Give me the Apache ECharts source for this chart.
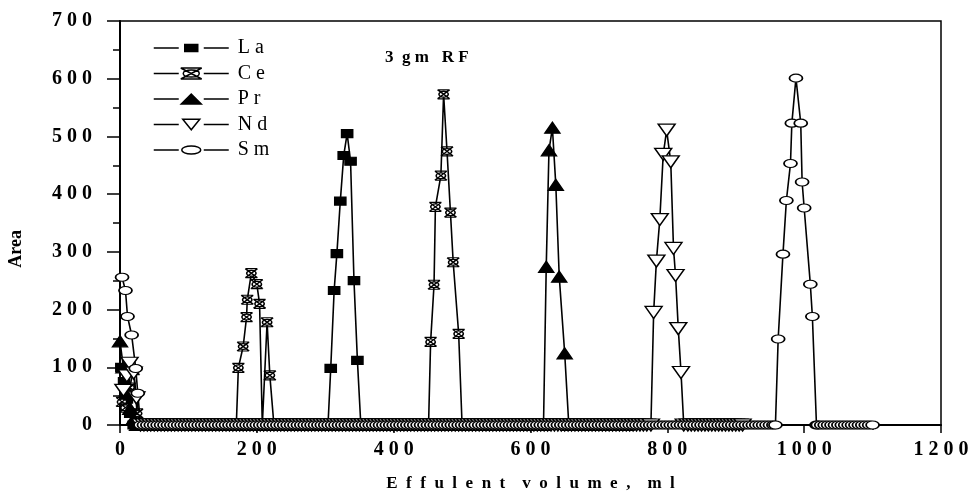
<!DOCTYPE html>
<html>
<head>
<meta charset="utf-8">
<script src="https://cdn.jsdelivr.net/npm/echarts@6/dist/echarts.min.js"></script>
<style>
  html, body { margin: 0; padding: 0; background: #fff; }
  #chart { width: 973px; height: 498px; }
</style>
</head>
<body>
<div id="chart"></div>
<script>
// Elution of rare earths, 3 gm RF resin
const elementNames = ['La', 'Ce', 'Pr', 'Nd', 'Sm'];
const xTickValues = [0, 200, 400, 600, 800, 1000, 1200];
const yTickValues = [0, 100, 200, 300, 400, 500, 600, 700];

// Measured fractions: [effluent volume ml, peak area]; each peak is bracketed by zero fractions
const laPoints = [[2, 100], [6, 75], [10, 45], [15, 20], [20, 0],
  [304, 0], [308, 98], [313, 233], [317, 297], [322, 388], [327, 467], [332, 505],
  [337, 457], [342, 250], [347, 112], [352, 0]];
const cePoints = [[3, 40], [8, 30], [14, 65], [20, 95], [25, 20], [30, 0],
  [170, 0], [173, 99], [180, 136], [185, 187], [186, 217], [192, 263], [200, 244],
  [204, 210], [208, 0], [215, 178], [219, 86], [225, 0],
  [451, 0], [454, 144], [459, 243], [461, 378], [469, 432], [473, 573], [478, 474],
  [483, 368], [487, 282], [495, 158], [500, 0]];
const prPoints = [[0, 145], [5, 100], [10, 60], [15, 28], [20, 10], [25, 0],
  [619, 0], [623, 274], [627, 476], [632, 515], [637, 416], [642, 257], [650, 124], [656, 0]];
const ndPoints = [[5, 60], [10, 85], [14, 107], [20, 90], [24, 47], [30, 0],
  [776, 0], [780, 195], [784, 284], [789, 356], [794, 469], [799, 511], [805, 456],
  [809, 306], [812, 259], [816, 167], [820, 91], [824, 0]];
const smPoints = [[3, 256], [8, 233], [11, 188], [17, 156], [23, 98], [26, 55], [30, 0],
  [958, 0], [962, 149], [969, 296], [974, 389], [980, 453], [982, 523], [988, 601],
  [995, 523], [997, 421], [1000, 376], [1009, 244], [1012, 188], [1018, 0]];

// Zero-area fractions were collected every 5 ml up to the last fraction of each run
const fractionStep = 5;
const lastFraction = { La: 741, Ce: 741, Pr: 741, Nd: 912, Sm: 1101 };

// The leading peak ends at its first zero; later peaks are bracketed by a pair of zeros.
// Zero fractions fill the stretches between peaks.
function buildSeries(points, last) {
  const lead = [];
  let i = 0;
  while (i < points.length && points[i][1] !== 0) { lead.push(points[i]); i++; }
  lead.push(points[i]);
  const rest = points.slice(i + 1);
  const windows = [];
  for (let k = 0; k + 1 < rest.length; ) {
    let j = k + 1;
    while (j < rest.length && rest[j][1] !== 0) j++;
    windows.push([rest[k][0], rest[j][0]]);
    k = j + 1;
  }
  const leadEnd = points[i][0];
  const zeros = [];
  for (let v = fractionStep * Math.floor(leadEnd / fractionStep) + fractionStep; v <= last; v += fractionStep) {
    const inside = windows.some(function (w) { return v >= w[0] - 1 && v <= w[1] + 1; });
    if (!inside) zeros.push([v, 0]);
  }
  const all = lead.concat(rest, zeros);
  all.sort(function (a, b) { return a[0] - b[0]; });
  return all;
}

const serif = 'Liberation Serif';
const spaced = function (s) { return String(s).split('').join(' '); };

// plot markers
const ellipsePath = 'path://M0,5 C0,2.2 4.5,0 10,0 C15.5,0 20,2.2 20,5 C20,7.8 15.5,10 10,10 C4.5,10 0,7.8 0,5 Z';
const crossedPath = 'path://M1,1 L19,1 M1,15 L19,15 M1,1 L19,15 M19,1 L1,15 ' +
  'M3,8 C3,5.5 6.1,3.5 10,3.5 C13.9,3.5 17,5.5 17,8 C17,10.5 13.9,12.5 10,12.5 C6.1,12.5 3,10.5 3,8 Z';

const markerStyles = {
  La: { symbol: 'rect', symbolSize: [11, 8], symbolRotate: 0, fill: '#000' },
  Ce: { symbol: crossedPath, symbolSize: [12, 9], symbolRotate: 0, fill: '#fff' },
  Pr: { symbol: 'triangle', symbolSize: [15, 11], symbolRotate: 0, fill: '#000' },
  Nd: { symbol: 'triangle', symbolSize: [17, 12], symbolRotate: 180, fill: '#fff' },
  Sm: { symbol: ellipsePath, symbolSize: [13, 8], symbolRotate: 0, fill: '#fff' }
};

// legend keys: line stubs either side of the marker, in a 75 x 12 box
const keyBox = 'M0,0 M75,12 ';
const keyStubs = 'M0,6 L25,6 M50,6 L75,6 ';
const legendIcons = {
  La: 'path://' + keyBox + keyStubs + 'M31,2.5 L44,2.5 L44,9.5 L31,9.5 Z',
  Ce: 'path://' + keyBox + keyStubs + 'M27,0.5 L48,0.5 M27,11.5 L48,11.5 M27,0.5 L48,11.5 M48,0.5 L27,11.5 ' +
      'M29.5,6 C29.5,4 33,2.6 37.5,2.6 C42,2.6 45.5,4 45.5,6 C45.5,8 42,9.4 37.5,9.4 C33,9.4 29.5,8 29.5,6 Z',
  Pr: 'path://' + keyBox + keyStubs + 'M27.5,11 L47.5,11 L37.5,1 Z',
  Nd: 'path://' + keyBox + keyStubs + 'M29,0.7 L46,0.7 L37.5,11.3 Z',
  Sm: 'path://' + keyBox + keyStubs + 'M28,6 C28,3.8 32.3,2 37.5,2 C42.7,2 47,3.8 47,6 C47,8.2 42.7,10 37.5,10 C32.3,10 28,8.2 28,6 Z'
};

const seriesPoints = { La: laPoints, Ce: cePoints, Pr: prPoints, Nd: ndPoints, Sm: smPoints };

const series = elementNames.map(function (name) {
  const m = markerStyles[name];
  return {
    name: spaced(name),
    type: 'line',
    data: buildSeries(seriesPoints[name], lastFraction[name]),
    symbol: m.symbol,
    symbolSize: m.symbolSize,
    symbolRotate: m.symbolRotate,
    showAllSymbol: true,
    lineStyle: { color: '#000', width: 1.6 },
    itemStyle: { color: m.fill, borderColor: '#000', borderWidth: 1.4 },
    emphasis: { disabled: true },
    z: 2
  };
});

const chart = echarts.init(document.getElementById('chart'), null, { renderer: 'canvas' });
chart.setOption({
  animation: false,
  backgroundColor: '#fff',
  title: {
    text: '3  g m   R F',
    left: 380, top: 44,
    textStyle: { fontFamily: serif, fontWeight: 'bold', fontSize: 17, color: '#000' }
  },
  legend: {
    orient: 'vertical',
    left: 153, top: 38, padding: 0,
    itemWidth: 75, itemHeight: 12, itemGap: 5.5,
    symbolKeepAspect: false,
    textStyle: { fontFamily: serif, fontSize: 20, color: '#000', padding: [0, 0, 0, 4] },
    data: elementNames.map(function (name) {
      return {
        name: spaced(name),
        icon: legendIcons[name],
        itemStyle: { color: markerStyles[name].fill, borderColor: '#000', borderWidth: 1.5 }
      };
    })
  },
  // y-axis title, set a little below the middle of the axis
  graphic: [{
    type: 'text', left: 7, top: 230,
    rotation: Math.PI / 2,
    style: { text: 'Area', fontFamily: serif, fontWeight: 'bold', fontSize: 18, fill: '#000' }
  }],
  grid: { left: 120, right: 32, top: 21, bottom: 73, show: true, borderColor: '#000', borderWidth: 1.5 },
  xAxis: {
    type: 'value', min: xTickValues[0], max: xTickValues[xTickValues.length - 1], interval: 200,
    name: 'E  f  f  u  l  e  n  t    v  o  l  u  m  e  ,    m  l',
    nameLocation: 'middle', nameGap: 50,
    nameTextStyle: { fontFamily: serif, fontWeight: 'bold', fontSize: 17, color: '#000' },
    axisLine: { lineStyle: { color: '#000', width: 2 } },
    axisTick: { inside: false, length: 8, lineStyle: { color: '#000', width: 1.5 } },
    minorTick: { show: true, splitNumber: 2, length: 5, lineStyle: { color: '#000', width: 1.5 } },
    axisLabel: { margin: 15, fontFamily: serif, fontWeight: 'bold', fontSize: 20, color: '#000', formatter: spaced },
    splitLine: { show: false }
  },
  yAxis: {
    type: 'value', min: yTickValues[0], max: yTickValues[yTickValues.length - 1], interval: 100,
    axisLine: { lineStyle: { color: '#000', width: 2 } },
    axisTick: { inside: false, length: 13, lineStyle: { color: '#000', width: 1.5 } },
    minorTick: { show: true, splitNumber: 2, length: 7, lineStyle: { color: '#000', width: 1.5 } },
    axisLabel: { margin: 28, fontFamily: serif, fontWeight: 'bold', fontSize: 20, color: '#000', formatter: spaced },
    splitLine: { show: false }
  },
  series: series
});
</script>
</body>
</html>
